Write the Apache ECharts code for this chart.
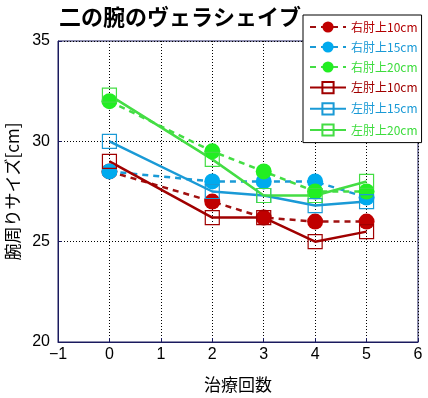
<!DOCTYPE html>
<html>
<head>
<meta charset="utf-8">
<script src="https://cdn.jsdelivr.net/npm/echarts@6/dist/echarts.min.js"></script>
<style>
  html, body { margin: 0; padding: 0; background: #fff; }
  #chart { width: 428px; height: 398px; }
</style>
</head>
<body>
<div id="chart"></div>
<script>
  // 治療回数
  var sessions = [0, 2, 3, 4, 5]
  var seriesNames = ['右肘上10cm', '右肘上15cm', '右肘上20cm', '左肘上10cm', '左肘上15cm', '左肘上20cm']
  var right10 = [28.5, 27.0, 26.2, 26.0, 26.0]
  var right15 = [28.5, 28.0, 28.0, 28.0, 27.2]
  var right20 = [32.0, 29.5, 28.5, 27.5, 27.5]
  var left10 = [29.0, 26.2, 26.2, 25.0, 25.5]
  var left15 = [30.0, 27.5, 27.3, 26.8, 27.0]
  var left20 = [32.3, 29.1, 27.3, 27.3, 28.0]
  var xTicks = [-1, 0, 1, 2, 3, 4, 5, 6]
  var yTicks = [20, 25, 30, 35]

  var jp = '"Noto Sans CJK JP", sans-serif'
  var num = '"Liberation Sans", Arial, sans-serif'
  var navy = '#1a1a5e'

  function pairs (vals) {
    var out = []
    for (var i = 0; i < vals.length; i++) out.push([sessions[i], vals[i]])
    return out
  }

  // 右 = 塗りつぶし丸 + 破線, 左 = 白抜き四角 + 実線
  function rightSeries (name, vals, fill, line) {
    return {
      name: name,
      type: 'line',
      data: pairs(vals),
      symbol: 'circle',
      symbolSize: 16,
      itemStyle: {color: fill},
      lineStyle: {color: line, width: 2.5, type: [6, 5]}
    }
  }
  function leftSeries (name, vals, color) {
    return {
      name: name,
      type: 'line',
      data: pairs(vals),
      symbol: 'rect',
      symbolSize: 14,
      itemStyle: {color: 'rgba(255,255,255,0)', borderColor: color, borderWidth: 1.2},
      lineStyle: {color: color, width: 2.5}
    }
  }

  var chart = echarts.init(document.getElementById('chart'))
  chart.setOption({
    animation: false,
    backgroundColor: '#fff',
    title: {
      text: '二の腕のヴェラシェイブ',
      left: 54,
      top: 1,
      textStyle: {fontFamily: jp, fontSize: 22, fontWeight: 'bold', color: '#000'}
    },
    legend: {
      orient: 'vertical',
      left: 303,
      top: 15,
      width: 116,
      padding: [6, 4, 6, 6],
      itemWidth: 36,
      itemHeight: 14,
      itemGap: 8,
      backgroundColor: '#fff',
      borderColor: '#000',
      borderWidth: 1,
      textStyle: {fontFamily: jp, fontSize: 12},
      data: [
        {name: seriesNames[0], textStyle: {color: '#b30000'}},
        {name: seriesNames[1], textStyle: {color: '#1a9ad6'}},
        {name: seriesNames[2], textStyle: {color: '#3ddc3d'}},
        {name: seriesNames[3], textStyle: {color: '#a00000'}},
        {name: seriesNames[4], textStyle: {color: '#1a9ad6'}},
        {name: seriesNames[5], textStyle: {color: '#3ddc3d'}}
      ]
    },
    grid: {
      left: 58, right: 10, top: 41, bottom: 56,
      outerBoundsMode: 'none',
      show: true, borderColor: navy, borderWidth: 1
    },
    xAxis: {
      type: 'value',
      min: xTicks[0],
      max: xTicks[xTicks.length - 1],
      interval: 1,
      name: '治療回数',
      nameLocation: 'middle',
      nameGap: 34,
      nameTextStyle: {fontFamily: jp, fontSize: 17, color: '#000'},
      axisLine: {onZero: false, lineStyle: {color: navy, width: 1}},
      axisTick: {inside: true, length: 4, lineStyle: {color: navy}},
      axisLabel: {
        fontFamily: num, fontSize: 16, color: '#000', margin: 5,
        formatter: function (v) { return String(v).replace('-', '\u2212') }
      },
      splitLine: {lineStyle: {color: '#000', type: [1, 2], width: 1}}
    },
    yAxis: {
      type: 'value',
      min: yTicks[0],
      max: yTicks[yTicks.length - 1],
      interval: 5,
      name: '腕周りサイズ[cm]',
      nameLocation: 'middle',
      nameRotate: 90,
      nameGap: 36,
      nameTextStyle: {fontFamily: jp, fontSize: 17, color: '#000'},
      axisLine: {onZero: false, lineStyle: {color: navy, width: 1}},
      axisTick: {inside: true, length: 4, lineStyle: {color: navy}},
      axisLabel: {fontFamily: num, fontSize: 16, color: '#000', margin: 8},
      splitLine: {lineStyle: {color: '#000', type: [1, 2], width: 1}}
    },
    series: [
      rightSeries(seriesNames[0], right10, '#c00000', '#a01010'),
      rightSeries(seriesNames[1], right15, '#00aaee', '#1a9ad6'),
      rightSeries(seriesNames[2], right20, '#22ee22', '#44dd44'),
      leftSeries(seriesNames[3], left10, '#a00000'),
      leftSeries(seriesNames[4], left15, '#1a9ad6'),
      leftSeries(seriesNames[5], left20, '#44dd44')
    ]
  })
  window.onresize = chart.resize
</script>
</body>
</html>
